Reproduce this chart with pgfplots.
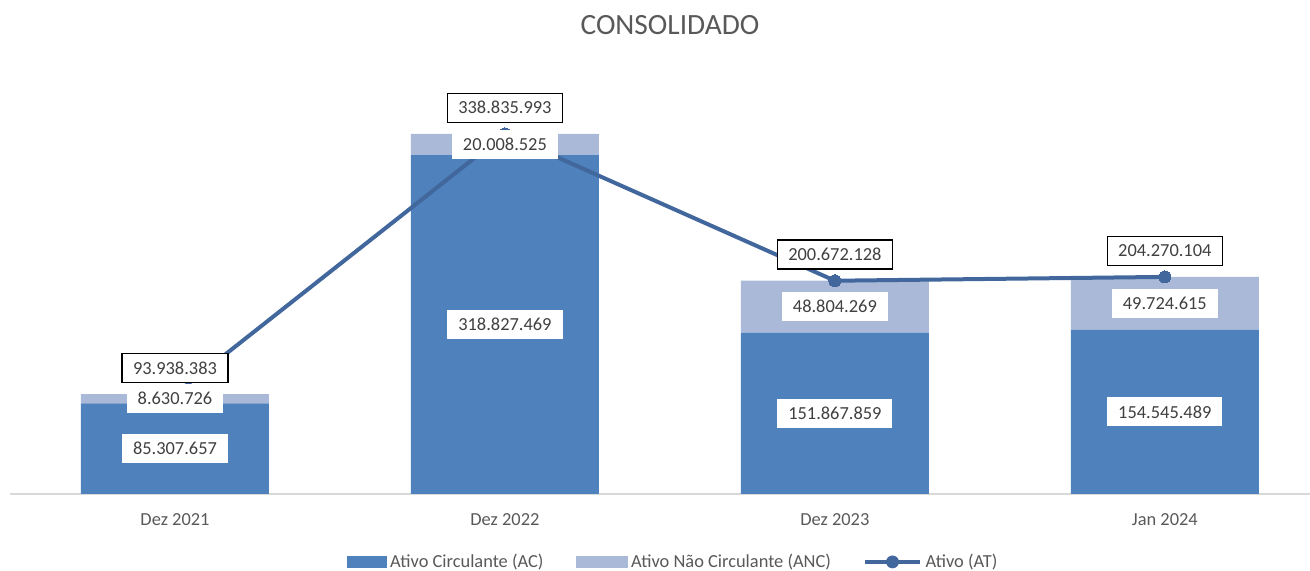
\documentclass[border=0pt]{standalone}
\usepackage{pgfplots}
\pgfplotsset{compat=1.18}
\usepackage{pgfplotstable}
\usepackage{fontspec}
\setmainfont{Carlito}

\definecolor{acblue}{HTML}{4F81BD}
\definecolor{ancblue}{HTML}{AAB9D7}
\definecolor{atline}{HTML}{41679C}
\definecolor{txtgray}{HTML}{595959}
\definecolor{lblgray}{HTML}{404040}
\definecolor{axisgray}{HTML}{D9D9D9}

% valores em milhoes; rotulos como texto
\pgfplotstableread{
x ac anc at lac lanc lat
0 85.307657 8.630726 93.938383 85.307.657 8.630.726 93.938.383
1 318.827469 20.008525 338.835993 318.827.469 20.008.525 338.835.993
2 151.867859 48.804269 200.672128 151.867.859 48.804.269 200.672.128
3 154.545489 49.724615 204.270104 154.545.489 49.724.615 204.270.104
}\dados

\newcommand{\lblfont}{\fontsize{9.2}{11}\selectfont}

\pgfplotsset{
  base/.style={
    scale only axis,
    x=165pt, y=0.53125pt,
    xmin=-0.5, xmax=3.44, ymin=0, ymax=400,
    clip=false,
  },
  overlay/.style={
    base, at={(ax.south west)}, anchor=south west,
    axis lines=none, xtick=\empty, ytick=\empty,
  },
  % nos empilhados ja ficam no meio do segmento
  barlbl/.style={
    every node near coord/.style={anchor=center,
      fill=white, text=lblgray, font=\lblfont, inner xsep=5.5pt,
      inner ysep=0pt, minimum height=14.5pt},
  },
}

\begin{document}
\begin{tikzpicture}
% barras empilhadas
\begin{axis}[
    base, name=ax,
    ybar stacked, bar width=94pt,
    axis y line=none, axis x line*=bottom,
    x axis line style={draw=axisgray, line width=1pt},
    xtick={0,1,2,3},
    xticklabels={Dez 2021, Dez 2022, Dez 2023, Jan 2024},
    major tick length=0pt,
    xticklabel style={anchor=center, yshift=-13pt, font=\lblfont, text=txtgray},
    title=CONSOLIDADO,
    title style={at={(0.5,1)}, anchor=center, yshift=16pt, xshift=5pt,
        font=\fontsize{14.7}{17}\selectfont, text=txtgray},
    legend columns=3,
    legend style={at={(0.51,0)}, anchor=center, yshift=-34pt, draw=none,
        font=\lblfont, text=txtgray, nodes={inner xsep=1pt},
        /tikz/every odd column/.append style={column sep=0.8pt},
        /tikz/every even column/.append style={column sep=15pt}},
    legend cell align=left,
]
\addplot[fill=acblue, draw=none,
    legend image code/.code={\fill[acblue] (0pt,-3.2pt) rectangle (20pt,3.2pt);},
] table[x=x, y=ac] {\dados};
\addplot[fill=ancblue, draw=none,
    legend image code/.code={\fill[ancblue] (0pt,-3.2pt) rectangle (26pt,3.2pt);},
] table[x=x, y=anc] {\dados};
\addlegendimage{legend image code/.code={\draw[atline, line width=2pt] (0pt,0pt) -- (27.5pt,0pt);
        \fill[atline] (13.75pt,0pt) circle (3pt);}}
\legend{Ativo Circulante (AC), Ativo Não Circulante (ANC), Ativo (AT)}
\end{axis}
% linha do ativo total
\begin{axis}[overlay]
\addplot[draw=atline, line width=2pt,
    mark=*, mark size=3pt, mark options={fill=atline, draw=atline, line width=0pt},
    point meta=explicit symbolic, nodes near coords,
    every node near coord/.style={anchor=south, yshift=5.5pt,
        draw=black, line width=0.7pt, fill=white, text=lblgray, font=\lblfont,
        inner xsep=5.5pt, inner ysep=0pt, minimum height=14.5pt},
] table[x=x, y=at, meta=lat] {\dados};
\end{axis}
% rotulos das barras por cima da linha
\begin{axis}[overlay, ybar stacked, bar width=94pt]
\addplot[fill=none, draw=none, barlbl,
    point meta=explicit symbolic, nodes near coords,
] table[x=x, y=ac, meta=lac] {\dados};
\addplot[fill=none, draw=none, barlbl,
    point meta=explicit symbolic, nodes near coords,
] table[x=x, y=anc, meta=lanc] {\dados};
\end{axis}
\pgfresetboundingbox
\path[use as bounding box] ([shift={(-5pt,-38.5pt)}]ax.south west)
    rectangle ([shift={(0pt,247pt)}]ax.south east);
\end{tikzpicture}
\end{document}
